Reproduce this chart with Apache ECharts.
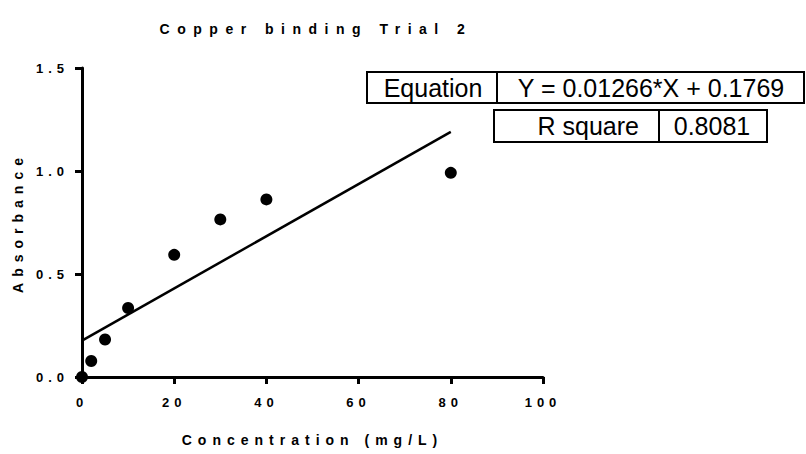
<!DOCTYPE html>
<html>
<head>
<meta charset="utf-8">
<script src="https://cdn.jsdelivr.net/npm/echarts@6/dist/echarts.min.js"></script>
<style>
  html, body { margin: 0; padding: 0; background: #fff; }
  #chart { width: 806px; height: 454px; }
  /* Spaced-out bold lettering used by the original (tick labels, axis names, title) */
  #chart text[style*="bold"] { letter-spacing: 5px; }
  #chart text[style*="sans-serif"] { letter-spacing: 6px; }
  #chart text[style*="Arial"] { letter-spacing: 7.5px; }
</style>
</head>
<body>
<div id="chart"></div>
<script>
// ---- data ----
const titleText = 'Copper binding Trial 2';
const xName = 'Concentration (mg/L)';
const yName = 'Absorbance';
const concentration = [0, 2, 5, 10, 20, 30, 40, 80];
const absorbance = [0.0, 0.078, 0.182, 0.335, 0.593, 0.765, 0.862, 0.991];
const fitX = [0, 80];
const fitY = [0.1769, 1.1897];
const xTicks = [0, 20, 40, 60, 80, 100];
const yTicks = [0.0, 0.5, 1.0, 1.5];
const tableRow1 = ['Equation', 'Y = 0.01266*X + 0.1769'];
const tableRow2 = ['R square', '0.8081'];

const TICK_FONT = 'Liberation Sans';
const NAME_FONT = 'Liberation Sans, sans-serif';
const TITLE_FONT = 'Liberation Sans, Arial';
const TABLE_FONT = 'Liberation Sans, Helvetica';
const chart = echarts.init(document.getElementById('chart'), null, { renderer: 'svg' });

const cellStyle = { fill: '#fff', stroke: '#000', lineWidth: 2 };
const tableText = { fontFamily: TABLE_FONT, fontSize: 25, fill: '#000', verticalAlign: 'middle' };

chart.setOption({
  animation: false,
  backgroundColor: '#fff',
  title: {
    text: titleText,
    left: 311,
    top: 17,
    textAlign: 'center',
    textStyle: { fontFamily: TITLE_FONT, fontWeight: 'bold', fontSize: 14, color: '#000' }
  },
  grid: { left: 82, right: 263, top: 68, bottom: 77, containLabel: false },
  xAxis: {
    type: 'value',
    min: xTicks[0],
    max: xTicks[xTicks.length - 1],
    interval: xTicks[1] - xTicks[0],
    name: xName,
    nameLocation: 'middle',
    nameGap: 56,
    nameTextStyle: { fontFamily: NAME_FONT, fontWeight: 'bold', fontSize: 14, color: '#000' },
    axisLine: { onZero: false, lineStyle: { color: '#000', width: 3 } },
    axisTick: { show: true, length: 7, lineStyle: { color: '#000', width: 3 } },
    axisLabel: { margin: 19, fontFamily: TICK_FONT, fontWeight: 'bold', fontSize: 13, color: '#000' },
    splitLine: { show: false }
  },
  yAxis: {
    type: 'value',
    min: yTicks[0],
    max: yTicks[yTicks.length - 1],
    interval: yTicks[1] - yTicks[0],
    name: yName,
    nameLocation: 'middle',
    nameGap: 57,
    nameTextStyle: { fontFamily: NAME_FONT, fontWeight: 'bold', fontSize: 14, color: '#000' },
    axisLine: { show: true, onZero: false, lineStyle: { color: '#000', width: 3 } },
    axisTick: { show: true, length: 7, lineStyle: { color: '#000', width: 3 } },
    axisLabel: {
      margin: 13, fontFamily: TICK_FONT, fontWeight: 'bold', fontSize: 13, color: '#000',
      formatter: v => v.toFixed(1)
    },
    splitLine: { show: false }
  },
  series: [
    {
      type: 'line',
      data: fitX.map((x, i) => [x, fitY[i]]),
      showSymbol: false,
      symbol: 'none',
      lineStyle: { color: '#000', width: 2.5 },
      z: 3
    },
    {
      type: 'scatter',
      data: concentration.map((x, i) => [x, absorbance[i]]),
      symbol: 'circle',
      symbolSize: 12,
      itemStyle: { color: '#000', opacity: 1 },
      clip: false,
      z: 4
    }
  ],
  graphic: [
    { type: 'rect', shape: { x: 367, y: 72, width: 130, height: 31 }, style: cellStyle },
    { type: 'rect', shape: { x: 497, y: 72, width: 307, height: 31 }, style: cellStyle },
    { type: 'rect', shape: { x: 494, y: 110, width: 165, height: 32 }, style: cellStyle },
    { type: 'rect', shape: { x: 659, y: 110, width: 108, height: 32 }, style: cellStyle },
    { type: 'text', x: 433, y: 88, style: Object.assign({ text: tableRow1[0], align: 'center' }, tableText) },
    { type: 'text', x: 651, y: 88, style: Object.assign({ text: tableRow1[1], align: 'center' }, tableText) },
    { type: 'text', x: 639, y: 126, style: Object.assign({ text: tableRow2[0], align: 'right' }, tableText) },
    { type: 'text', x: 712, y: 126, style: Object.assign({ text: tableRow2[1], align: 'center' }, tableText) }
  ]
});
</script>
</body>
</html>
